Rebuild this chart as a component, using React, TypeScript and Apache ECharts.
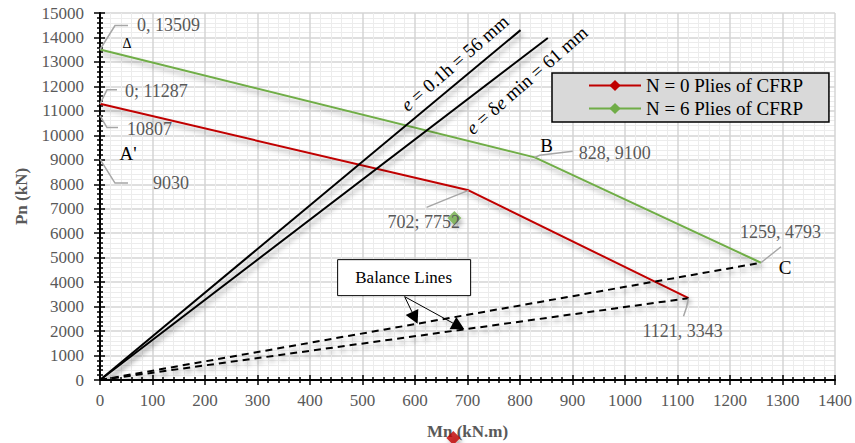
import React, { useEffect, useRef } from 'react';
import * as echarts from 'echarts';

// ---- data ----
const seriesNames = ['N = 0 Plies of CFRP', 'N = 6 Plies of CFRP'];
const plies0 = [[0, 11287], [702, 7752], [1121, 3343]];
const plies6 = [[0, 13509], [828, 9100], [1259, 4793]];
const plies0Flat = [[0, 9030], [447, 9030]];
const plies6Flat = [[0, 10807], [508, 10807]];
const eLine56 = [[0, 0], [801, 14300]];
const eLine61 = [[0, 0], [853, 13980]];
const balance6 = [[0, 0], [1259, 4793]];
const balance0 = [[0, 0], [1121, 3343]];
const balanceArrowX = [605, 694];
const strayGreen = [[675, 6620]];
const strayRed = [[673, -2370]];
const xRange = [0, 1400, 100];
const yRange = [0, 15000, 1000];

const FONT = '"Liberation Serif", "Times New Roman", serif';
const RED = '#c00000';
const GREEN = '#70ad47';
const GRAY_TXT = '#595959';
const shadow = { shadowColor: 'rgba(0,0,0,0.35)', shadowBlur: 5, shadowOffsetX: 2, shadowOffsetY: 4 };

export default function App() {
  const ref = useRef<HTMLDivElement>(null);
  useEffect(() => {
    if (!ref.current) return;
    const chart = echarts.init(ref.current, undefined, { renderer: 'svg' });
    const lineSeries = (name: string | undefined, data: number[][], color: string, extra: any = {}) => ({
      type: 'line',
      name,
      data,
      xAxisIndex: 0,
      yAxisIndex: 0,
      symbol: 'diamond',
      symbolSize: 12,
      showSymbol: false,
      silent: true,
      itemStyle: { color },
      lineStyle: { color, width: 2, ...shadow, ...(extra.lineStyle || {}) },
      emphasis: { disabled: true },
      z: extra.z ?? 3,
    });
    const plain = (v: number) => String(v);
    const commonX = { type: 'value', min: xRange[0], max: xRange[1], interval: xRange[2] };
    const commonY = { type: 'value', min: yRange[0], max: yRange[1], interval: yRange[2] };
    const option: any = {
      animation: false,
      grid: { left: 100, right: 20, top: 13, bottom: 63, containLabel: false, outerBoundsMode: 'none' },
      xAxis: [
        {
          ...commonX,
          position: 'bottom',
          name: 'Mn (kN.m)',
          nameLocation: 'middle',
          nameGap: 43,
          nameTextStyle: { fontFamily: FONT, fontSize: 17, fontWeight: 'bold', color: GRAY_TXT },
          axisLine: { show: true, lineStyle: { color: '#000', width: 2 } },
          axisTick: { show: true, length: 5, lineStyle: { color: '#000', width: 1.5 } },
          minorTick: { show: true, splitNumber: 5, length: 3, lineStyle: { color: '#000', width: 1.5 } },
          axisLabel: { fontFamily: FONT, fontSize: 17, color: GRAY_TXT, margin: 12, formatter: plain },
          splitLine: { show: true, lineStyle: { color: '#d4d4d4', width: 1.5 } },
          minorSplitLine: { show: true, lineStyle: { color: '#ececec', width: 1 } },
        },
        {
          ...commonX,
          position: 'top',
          axisLine: { show: false, onZero: true },
          axisTick: { show: true, length: 5, lineStyle: { color: '#000', width: 1.5 } },
          minorTick: { show: true, splitNumber: 5, length: 3, lineStyle: { color: '#000', width: 1.5 } },
          axisLabel: { show: false },
          splitLine: { show: false },
        },
      ],
      yAxis: [
        {
          ...commonY,
          position: 'left',
          name: 'Pn (kN)',
          nameLocation: 'middle',
          nameGap: 70,
          nameTextStyle: { fontFamily: FONT, fontSize: 17, fontWeight: 'bold', color: GRAY_TXT },
          axisLine: { show: true, lineStyle: { color: '#000', width: 2 } },
          axisTick: { show: true, length: 6, lineStyle: { color: '#000', width: 1.5 } },
          minorTick: { show: true, splitNumber: 5, length: 3, lineStyle: { color: '#000', width: 1.5 } },
          axisLabel: { fontFamily: FONT, fontSize: 17, color: GRAY_TXT, margin: 16, formatter: plain },
          splitLine: { show: true, lineStyle: { color: '#d4d4d4', width: 1.5 } },
          minorSplitLine: { show: true, lineStyle: { color: '#ececec', width: 1 } },
        },
        {
          ...commonY,
          position: 'right',
          axisLine: { show: false, onZero: true },
          axisTick: { show: true, length: 5, lineStyle: { color: '#000', width: 1.5 } },
          minorTick: { show: true, splitNumber: 5, length: 3, lineStyle: { color: '#000', width: 1.5 } },
          axisLabel: { show: false },
          splitLine: { show: false },
        },
      ],
      legend: {
        data: seriesNames,
        orient: 'vertical',
        left: 552,
        top: 73,
        backgroundColor: '#d9d9d9',
        borderColor: '#000',
        borderWidth: 1.5,
        borderRadius: 0,
        padding: [3, 26, 4, 36],
        itemWidth: 52,
        itemHeight: 14,
        itemGap: 4,
        selectedMode: false,
        textStyle: { fontFamily: FONT, fontSize: 19, color: '#000', lineHeight: 19 },
      },
      series: [
        lineSeries(seriesNames[0], plies0, RED),
        lineSeries(seriesNames[1], plies6, GREEN),
        lineSeries(undefined, plies0Flat, RED),
        lineSeries(undefined, plies6Flat, GREEN),
        lineSeries(undefined, eLine56, '#000'),
        lineSeries(undefined, eLine61, '#000'),
        lineSeries(undefined, balance6, '#000', { lineStyle: { type: [7, 5], width: 2 } }),
        lineSeries(undefined, balance0, '#000', { lineStyle: { type: [7, 5], width: 2 } }),
        {
          type: 'scatter', data: strayGreen, symbol: 'diamond', symbolSize: 14, silent: true,
          itemStyle: { color: GREEN, ...shadow }, z: 4,
        },
        {
          type: 'scatter', data: strayRed, symbol: 'diamond', symbolSize: 14, silent: true, clip: false,
          itemStyle: { color: RED, ...shadow }, z: 4,
        },
      ],
    };
    chart.setOption(option);

    const px = (p: number[]) => chart.convertToPixel({ xAxisIndex: 0, yAxisIndex: 0 }, p) as number[];
    const graphics: any[] = [];
    const leaderStyle = { stroke: '#a6a6a6', lineWidth: 1.5, fill: 'none' };
    const addLabel = (text: string, anchor: number[], elbow: number[], end: number[], tx: number, ty: number, align = 'left') => {
      const a = px(anchor);
      graphics.push({
        type: 'polyline', silent: true, z: 10,
        shape: { points: [[a[0], a[1]], [a[0] + elbow[0], a[1] + elbow[1]], [a[0] + end[0], a[1] + end[1]]] },
        style: leaderStyle,
      });
      graphics.push({
        type: 'text', silent: true, z: 10, x: a[0] + tx, y: a[1] + ty,
        style: { text, fill: GRAY_TXT, fontFamily: FONT, fontSize: 18, textAlign: align, verticalAlign: 'middle' },
      });
    };
    const fmt = (p: number[], sep: string) => `${p[0]}${sep} ${p[1]}`;
    addLabel(fmt(plies6[0], ','), plies6[0], [15, -24], [28, -24], 37, -24);
    addLabel(fmt(plies0[0], ';'), plies0[0], [7, -14], [17, -14], 25, -13);
    addLabel(`${plies6Flat[0][1]}`, plies6Flat[0], [7, 12], [18, 12], 27, 13);
    addLabel(`${plies0Flat[0][1]}`, plies0Flat[0], [15, 24], [28, 24], 53, 24);
    addLabel(fmt(plies6[1], ','), plies6[1], [5, -2], [38, -6], 44, -4);
    addLabel(fmt(plies0[1], ';'), plies0[1], [-20, 8], [-42, 17], -81, 32);
    addLabel(fmt(plies6[2], ','), plies6[2], [10, -8], [20, -16], -21, -31);
    addLabel(fmt(plies0[2], ','), plies0[2], [-2, 9], [-5, 18], -46, 33);

    const letter = (t: string, anchor: number[], dx: number, dy: number, size: number) => {
      const a = px(anchor);
      graphics.push({
        type: 'text', silent: true, z: 10, x: a[0] + dx, y: a[1] + dy,
        style: { text: t, fill: '#000', fontFamily: FONT, fontSize: size, textAlign: 'center', verticalAlign: 'middle' },
      });
    };
    letter('Δ', plies6[0], 27, -6, 14);
    letter("A'", plies0Flat[0], 28, -6, 19);
    letter('B', plies6[1], 12, -12, 19);
    letter('C', plies6[2], 24, 5, 19);

    // rotated e-line labels
    const rot = (41 * Math.PI) / 180;
    const eLabel = (text: string, line: number[][], t: number, d: number) => {
      const p0 = px(line[0]);
      const p1 = px(line[1]);
      const dx = p1[0] - p0[0];
      const dy = p1[1] - p0[1];
      const len = Math.hypot(dx, dy);
      const nx = dy / len; // normal pointing upper-left
      const ny = -dx / len;
      const cx = p0[0] + dx * t + nx * d;
      const cy = p0[1] + dy * t + ny * d;
      graphics.push({
        type: 'text', silent: true, z: 10, x: cx, y: cy, rotation: rot,
        style: {
          text, fill: '#000', fontFamily: FONT, fontSize: 19, textAlign: 'center', verticalAlign: 'middle',
          rich: {
            i: { fontStyle: 'italic', fontFamily: FONT, fontSize: 19, fill: '#000' },
            n: { fontFamily: FONT, fontSize: 19, fill: '#000' },
          },
        },
      });
    };
    eLabel('{i|e}{n| = 0.1h = 56 mm}', eLine56, 0.869, 16.8);
    eLabel('{i|e}{n| = δ}{i|e}{n| min = 61 mm}', eLine61, 0.925, -20.7);

    // Balance Lines callout
    const t1 = px([balanceArrowX[0], (balance6[1][1] * balanceArrowX[0]) / balance6[1][0]]);
    const t2 = px([balanceArrowX[1], (balance0[1][1] * balanceArrowX[1]) / balance0[1][0]]);
    const boxC = [t1[0] - 14, t1[1] - 46];
    graphics.push({
      type: 'rect', silent: true, z: 11,
      shape: { x: boxC[0] - 66, y: boxC[1] - 18, width: 133, height: 36 },
      style: { fill: '#fff', stroke: '#000', lineWidth: 1 },
    });
    graphics.push({
      type: 'text', silent: true, z: 12, x: boxC[0], y: boxC[1],
      style: { text: 'Balance Lines', fill: '#000', fontFamily: FONT, fontSize: 17, textAlign: 'center', verticalAlign: 'middle' },
    });
    const arrowFrom = [boxC[0] + 1, boxC[1] + 19];
    const arrowTo = (target: number[]) => {
      const dx = target[0] - arrowFrom[0];
      const dy = target[1] - arrowFrom[1];
      const len = Math.hypot(dx, dy);
      const ux = dx / len, uy = dy / len;
      const hl = 13, hw = 7;
      const bx = target[0] - ux * hl, by = target[1] - uy * hl;
      graphics.push({
        type: 'line', silent: true, z: 11,
        shape: { x1: arrowFrom[0], y1: arrowFrom[1], x2: bx, y2: by },
        style: { stroke: '#000', lineWidth: 1 },
      });
      graphics.push({
        type: 'polygon', silent: true, z: 11,
        shape: { points: [[target[0], target[1]], [bx - uy * hw, by + ux * hw], [bx + uy * hw, by - ux * hw]] },
        style: { fill: '#000' },
      });
    };
    arrowTo(t1);
    arrowTo(t2);

    chart.setOption({ graphic: { elements: graphics } });
    return () => chart.dispose();
  }, []);
  return <div ref={ref} style={{ position: 'absolute', left: 0, top: 0, width: 855, height: 443 }} />;
}
